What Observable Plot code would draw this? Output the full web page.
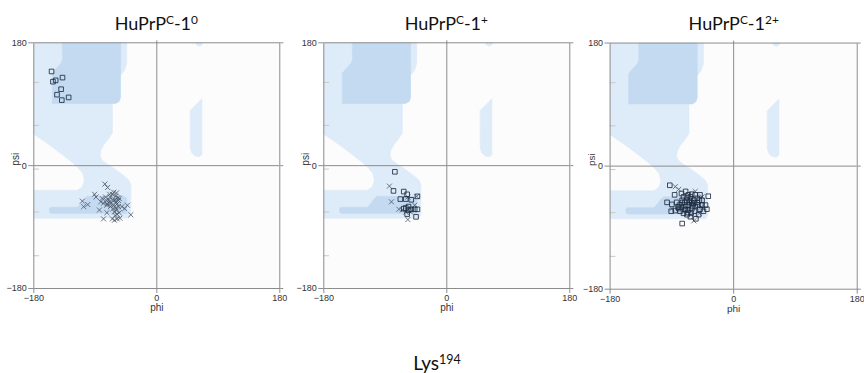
<!DOCTYPE html>
<html>
<head>
<meta charset="utf-8">
<script src="https://cdn.jsdelivr.net/npm/d3@7"></script>
<script src="https://cdn.jsdelivr.net/npm/@observablehq/plot@0.6"></script>
<style>
  html, body { margin: 0; padding: 0; background: #fff; overflow: hidden; }
  #root { position: relative; width: 864px; height: 373px; font-family: Lato, "Open Sans", sans-serif; color: #111; }
  .panel { position: absolute; top: 0; }
  .panel svg { display: block; }
  .title { position: absolute; width: 260px; text-align: center; font-size: 18px; line-height: 18px; white-space: nowrap; }
  .title sup, .caption sup { font-size: 0.66em; vertical-align: 0.48em; line-height: 0; }
  .caption { position: absolute; width: 200px; text-align: center; font-size: 19px; line-height: 19px; white-space: nowrap; }
</style>
</head>
<body>
<div id="root"></div>
<script>
// Panel titles and caption
const titles = [["HuPrP", "C", "-1", "0"], ["HuPrP", "C", "-1", "+"], ["HuPrP", "C", "-1", "2+"]];
const caption = ["Lys", "194"];

// Axis ticks (degrees)
const xTicks = [-180, 0, 180];
const yTicks = [-180, 0, 180];
const innerTicks = [122, 59, -5, -68, -132];

// Ramachandran regions, [phi, psi] outlines
const allowedRegion = [[-180,180],[-44,180],[-44,150],[-47,140],[-55,130],[-63,124],[-65,112],[-65,48],[-70,40],[-78,30],[-82,22],[-83,14],[-80,8],[-72,2],[-60,-6],[-48,-15],[-41,-21],[-38,-28],[-38,-72],[-41,-77],[-180,-77],[-180,-36],[-116,-36],[-109,-31],[-106,-22],[-108,-12],[-115,-3],[-124,5],[-138,16],[-158,31],[-180,46]];
const favouredBeta = [[-138,180],[-53,180],[-53,100],[-55,94],[-60,91],[-153,91],[-153,135],[-150,139],[-140,150],[-138,156]];
const favouredAlpha = [[-155,-61],[-116,-61],[-110,-54],[-106,-48],[-102,-45],[-48,-45],[-44,-48],[-44,-70],[-155,-70],[-157,-68],[-157,-63]];
const leftHelix = [[49,81],[66,98],[66,16],[62,13],[56,14],[51,19],[49,26]];
const leftHelixTop = [[57,180],[67,180],[66,177],[62,175],[58,177]];

// Backbone dihedrals, [phi, psi]
const squares0 = [[-154,138],[-152,123],[-148,125],[-138,129],[-140,112],[-146,104],[-139,96],[-129,100]];
const crosses0 = [[-76,-27],[-72,-32],[-91,-42],[-89,-46],[-63,-39],[-59,-40],[-80,-48],[-75,-46],[-74,-51],[-70,-50],[-68,-46],[-65,-42],[-60,-45],[-57,-47],[-55,-48],[-82,-53],[-78,-55],[-73,-56],[-69,-53],[-64,-51],[-60,-53],[-58,-56],[-56,-51],[-63,-58],[-60,-62],[-59,-65],[-62,-68],[-64,-63],[-68,-60],[-73,-58],[-109,-52],[-107,-60],[-101,-57],[-84,-65],[-73,-69],[-78,-78],[-65,-78],[-62,-80],[-58,-78],[-54,-77],[-51,-60],[-47,-63],[-43,-58],[-38,-72],[-55,-69],[-58,-71],[-61,-73],[-68,-56],[-61,-50],[-69,-42],[-56,-60]];

const squares1 = [[-76,-9],[-78,-37],[-63,-38],[-58,-42],[-68,-49],[-60,-49],[-52,-50],[-43,-45],[-60,-62],[-56,-60],[-52,-64],[-47,-64],[-43,-64],[-58,-71],[-45,-75],[-56,-65],[-63,-63]];
const crosses1 = [[-84,-30],[-81,-53],[-70,-64],[-57,-79],[-47,-58],[-44,-45],[-65,-65],[-60,-68],[-53,-68],[-57,-46]];

const squares2 = [[-93,-28],[-86,-42],[-90,-56],[-97,-53],[-91,-66],[-85,-65],[-81,-60],[-75,-84],[-76,-40],[-70,-37],[-73,-45],[-66,-42],[-61,-41],[-56,-42],[-37,-44],[-46,-50],[-41,-57],[-39,-63],[-44,-66],[-51,-71],[-55,-77],[-63,-74],[-68,-71],[-73,-69],[-78,-66],[-80,-62],[-70,-59],[-66,-57],[-61,-54],[-58,-50],[-63,-50],[-68,-50],[-71,-53],[-75,-54],[-79,-57],[-83,-53],[-66,-64],[-61,-62],[-56,-59],[-52,-57],[-50,-50],[-53,-47],[-49,-42],[-57,-66],[-62,-69],[-67,-68],[-71,-63],[-76,-60],[-63,-45],[-68,-46],[-58,-54],[-53,-53],[-46,-57],[-49,-63],[-65,-53],[-60,-58],[-70,-64],[-75,-50]];
const crosses2 = [[-85,-30],[-80,-34],[-46,-45],[-50,-69],[-58,-80],[-90,-62],[-56,-37],[-47,-60]];

const LIGHT = "#deebf8";
const MEDIUM = "#c4daf1";
const AX = "#8c8c8c";

const panels = [
  {left: 0,   ml: 33.3, mt: 42.3, pw: 246, ph: 245.7, squares: squares0, crosses: crosses0, cx: 156.3},
  {left: 290, ml: 33.3, mt: 42.3, pw: 246, ph: 245.7, squares: squares1, crosses: crosses1, cx: 446.3},
  {left: 575, ml: 34.7, mt: 42.7, pw: 248, ph: 247,   squares: squares2, crosses: crosses2, cx: 733.7}
];

const W = 290, H = 320;
const px = d => d[0], py = d => d[1];
const region = (pts, color) =>
  Plot.line(pts, {x: px, y: py, curve: "linear-closed", fill: color, stroke: color, strokeWidth: 0.6, clip: true});

function ramachandran(p) {
  return Plot.plot({
    width: W,
    height: H,
    marginLeft: p.ml,
    marginRight: W - p.ml - p.pw,
    marginTop: p.mt,
    marginBottom: H - p.mt - p.ph,
    x: {domain: [-180, 180]},
    y: {domain: [-180, 180]},
    style: {fontFamily: "'Liberation Sans', Arial, sans-serif", fontSize: "9px", color: "#333", background: "transparent", overflow: "visible"},
    marks: [
      Plot.frame({fill: "#fcfcfc", stroke: "none"}),
      region(allowedRegion, LIGHT),
      region(leftHelix, LIGHT),
      region(leftHelixTop, LIGHT),
      region(favouredBeta, MEDIUM),
      region(favouredAlpha, MEDIUM),
      Plot.ruleX([0], {stroke: AX}),
      Plot.ruleY([0], {stroke: AX}),
      Plot.ruleY(innerTicks, {x1: -180, x2: -171.5, stroke: "#c9c9c9"}),
      Plot.frame({stroke: AX}),
      Plot.axisY({ticks: yTicks, tickSize: 5, tickPadding: 2, label: null, stroke: AX}),
      Plot.axisX({ticks: xTicks, tickSize: 5, tickPadding: 1.5, label: null, stroke: AX}),
      Plot.axisX({anchor: "top", ticks: [0], tickSize: 3, tickFormat: () => "", label: null, stroke: AX}),
      Plot.axisY({anchor: "right", ticks: yTicks, tickSize: 3, tickFormat: () => "", label: null, stroke: AX}),
      Plot.text(["psi"], {frameAnchor: "left", rotate: -90, dx: -18.5, fontSize: 10, fill: "#333"}),
      Plot.text(["phi"], {frameAnchor: "bottom", dy: 22.5, fontSize: 10, fill: "#333"}),
      Plot.dot(p.crosses, {x: px, y: py, symbol: "times", r: 2.4, stroke: "#4a5666", strokeWidth: 0.8}),
      Plot.dot(p.squares, {x: px, y: py, symbol: "square", r: 2.6, stroke: "#1e2c40", strokeWidth: 0.85, fill: "none"})
    ]
  });
}

const root = document.getElementById("root");
panels.forEach((p, i) => {
  const div = document.createElement("div");
  div.className = "panel";
  div.style.left = p.left + "px";
  div.appendChild(ramachandran(p));
  root.appendChild(div);

  const t = document.createElement("div");
  t.className = "title";
  t.style.left = (p.cx - 130) + "px";
  t.style.top = "13.5px";
  const [a, b, c, d] = titles[i];
  t.innerHTML = `${a}<sup>${b}</sup>${c}<sup>${d}</sup>`;
  root.appendChild(t);
});

const cap = document.createElement("div");
cap.className = "caption";
cap.style.left = (437 - 100) + "px";
cap.style.top = "352.5px";
cap.innerHTML = `${caption[0]}<sup>${caption[1]}</sup>`;
root.appendChild(cap);
</script>
</body>
</html>
